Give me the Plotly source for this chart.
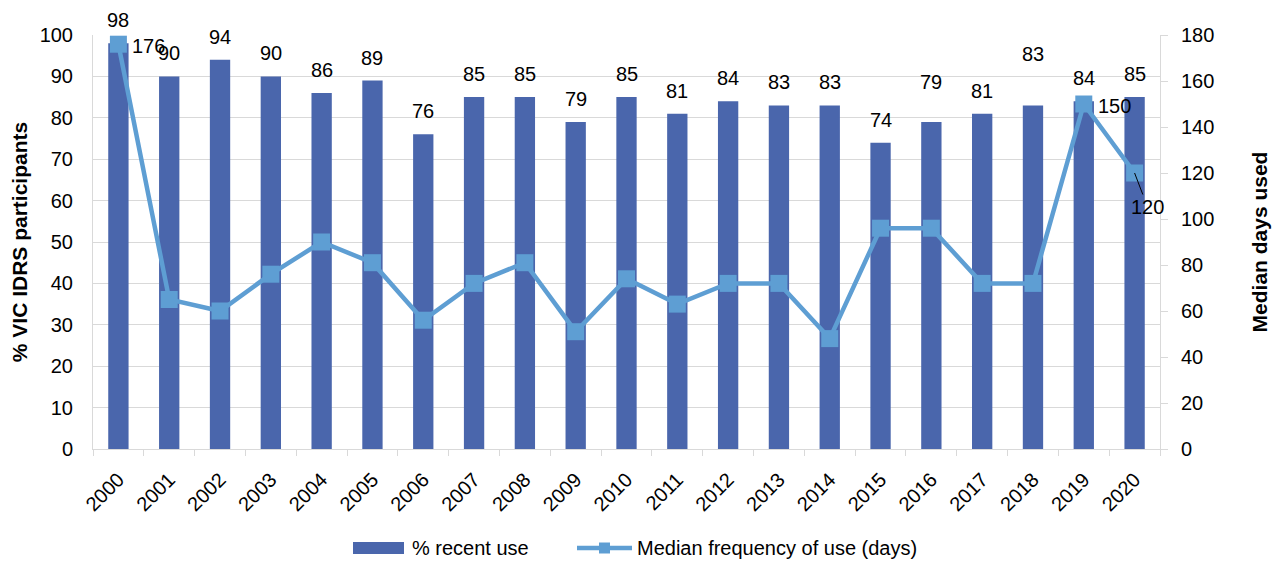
import plotly.graph_objects as go

years = [str(y) for y in range(2000, 2021)]
recent_use_pct = [98, 90, 94, 90, 86, 89, 76, 85, 85, 79, 85, 81, 84, 83, 83, 74, 79, 81, 83, 84, 85]
median_days = [176, 65, 60, 76, 90, 81, 56, 72, 81, 51, 74, 63, 72, 72, 48, 96, 96, 72, 72, 150, 120]

# years whose median-days value carries a printed label: (dx, dy) offset of the text
labelled_days = {"2000": (22, 0), "2019": (22, 0), "2020": (13, 34)}
# extra vertical lift (px) for bar labels that would collide with the line
bar_label_lift = {"2016": 17, "2018": 28}

BAR = "#4A66AC"
LINE = "#5E9ED3"
GRID = "#D9D9D9"
FONT = "Liberation Sans, Arial, sans-serif"

W, H = 1272, 563
ML, MR, MT, MB = 93, 112, 35, 114
PW, PH = W - ML - MR, H - MT - MB


def px(x):
    return (x - ML) / PW


def py(y):
    return (H - MB - y) / PH


fig = go.Figure()
fig.add_trace(go.Bar(
    x=years, y=recent_use_pct, name="% recent use",
    marker=dict(color=BAR, line=dict(width=0)), yaxis="y",
))
fig.add_trace(go.Scatter(
    x=years, y=median_days, name="Median frequency of use (days)",
    mode="lines+markers", yaxis="y2",
    line=dict(color=LINE, width=4.5),
    marker=dict(symbol="square", size=17, color=LINE),
))

annotations = []
for i, (yr, v) in enumerate(zip(years, recent_use_pct)):
    annotations.append(dict(
        x=i, y=v, xref="x", yref="y", text=str(v), showarrow=False,
        yanchor="middle", yshift=23 + bar_label_lift.get(yr, 0),
        font=dict(size=20, color="#000000", family=FONT),
    ))
for i, (yr, v) in enumerate(zip(years, median_days)):
    if yr in labelled_days:
        dx, dy = labelled_days[yr]
        if dy == 0:
            annotations.append(dict(
                x=i, y=v, xref="x", yref="y2", text=str(v), showarrow=False,
                xanchor="left", xshift=dx - 10, yshift=-2,
                font=dict(size=20, color="#000000", family=FONT),
            ))
        else:
            annotations.append(dict(
                x=i, y=v, xref="x", yref="y2", text=str(v), showarrow=True,
                ax=dx, ay=dy, arrowhead=0, arrowwidth=1, arrowcolor="#000000",
                standoff=0, startstandoff=0,
                font=dict(size=20, color="#000000", family=FONT),
            ))

# legend drawn beneath the plot
legend_y = 548
shapes = [
    dict(type="rect", xref="paper", yref="paper",
         x0=px(353), x1=px(404), y0=py(legend_y + 6), y1=py(legend_y - 6),
         fillcolor=BAR, line=dict(width=0)),
    dict(type="line", xref="paper", yref="paper",
         x0=px(577), x1=px(632), y0=py(legend_y), y1=py(legend_y),
         line=dict(color=LINE, width=4.5)),
    dict(type="rect", xref="paper", yref="paper",
         x0=px(599), x1=px(610), y0=py(legend_y + 5.5), y1=py(legend_y - 5.5),
         fillcolor=LINE, line=dict(width=0)),
]
annotations += [
    dict(xref="paper", yref="paper", x=px(410), y=py(legend_y), text="% recent use",
         showarrow=False, xanchor="left", yanchor="middle",
         font=dict(size=20, color="#000000", family=FONT)),
    dict(xref="paper", yref="paper", x=px(635), y=py(legend_y),
         text="Median frequency of use (days)",
         showarrow=False, xanchor="left", yanchor="middle",
         font=dict(size=20, color="#000000", family=FONT)),
]

fig.update_layout(
    width=W, height=H,
    margin=dict(l=ML, r=MR, t=MT, b=MB, autoexpand=False),
    paper_bgcolor="white", plot_bgcolor="white",
    font=dict(family=FONT, color="#000000", size=20),
    bargap=0.6,
    showlegend=False,
    xaxis=dict(
        type="category", range=[-0.5, len(years) - 0.5], automargin=False,
        tickangle=-45, tickfont=dict(size=20), ticklabelstandoff=10,
        showline=True, linecolor=GRID, linewidth=1,
        ticks="outside", tickson="boundaries", ticklen=6, tickcolor=GRID,
        showgrid=False,
    ),
    yaxis=dict(
        range=[0, 100], dtick=10, showgrid=True, gridcolor=GRID, gridwidth=1,
        showline=True, linecolor=GRID, zeroline=False, ticks="", ticklen=0,
        automargin=False,
        tickfont=dict(size=20), ticklabelstandoff=15,
        title=dict(text="<b>% VIC IDRS participants</b>", font=dict(size=21), standoff=6),
    ),
    yaxis2=dict(
        range=[0, 180], dtick=20, overlaying="y", side="right", showgrid=False,
        showline=True, linecolor=GRID, zeroline=False,
        ticks="outside", ticklen=7, tickcolor=GRID, automargin=False,
        tickfont=dict(size=20), ticklabelstandoff=9,
        title=dict(text="<b>Median days used</b>", font=dict(size=21), standoff=38),
    ),
    shapes=shapes,
    annotations=annotations,
)

fig.write_html("out.html")
